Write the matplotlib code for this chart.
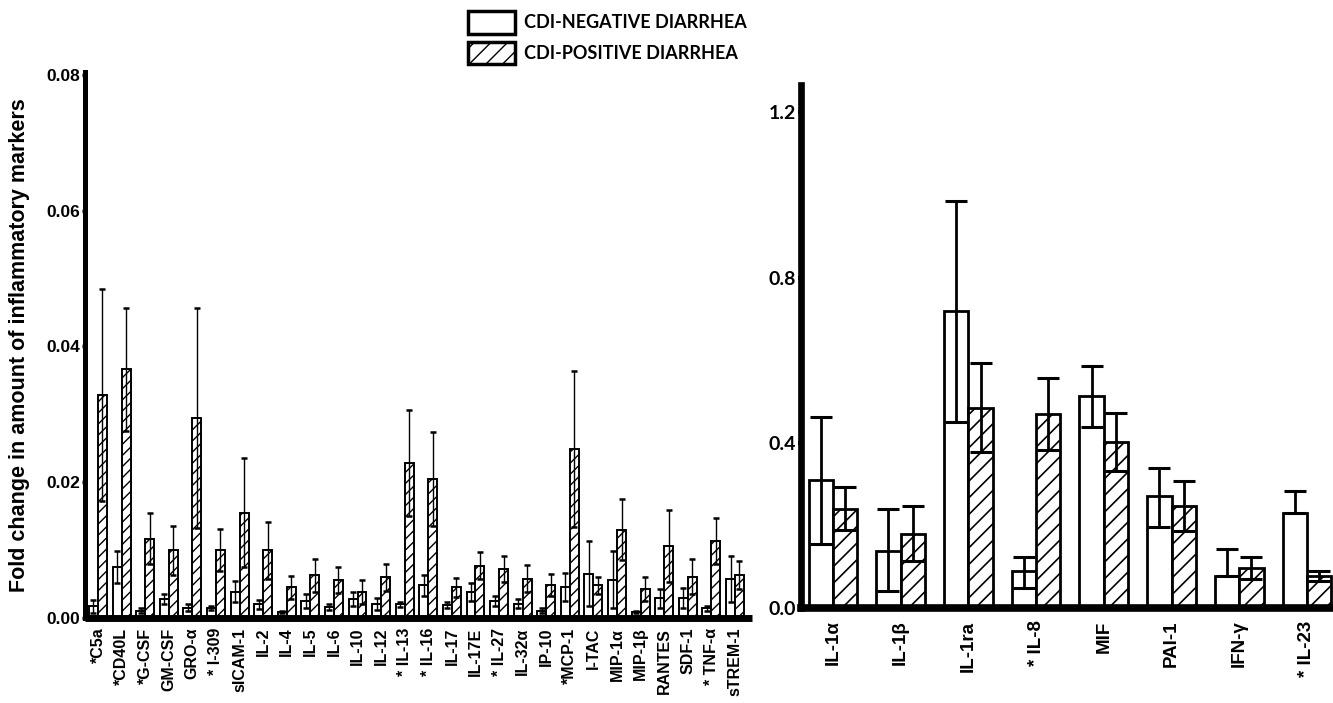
import matplotlib
matplotlib.use("Agg")
import matplotlib.pyplot as plt
import numpy as np
from matplotlib.patches import Patch

# ---------------- data ----------------
left_labels = ['*C5a', '*CD40L', '*G-CSF', 'GM-CSF', 'GRO-α', '* I-309', 'sICAM-1', 'IL-2',
               'IL-4', 'IL-5', 'IL-6', 'IL-10', 'IL-12', '* IL-13', '* IL-16', 'IL-17',
               'IL-17E', '* IL-27', 'IL-32α', 'IP-10', '*MCP-1', 'I-TAC', 'MIP-1α', 'MIP-1β',
               'RANTES', 'SDF-1', '* TNF-α', 'sTREM-1']
left_neg = [0.0017, 0.0075, 0.0011, 0.0028, 0.0015, 0.0015, 0.0039, 0.0020,
            0.0009, 0.0025, 0.0016, 0.0028, 0.0021, 0.0020, 0.0048, 0.0019,
            0.0038, 0.0025, 0.0021, 0.0011, 0.0046, 0.0065, 0.0056, 0.0009,
            0.0029, 0.0029, 0.0014, 0.0058]
left_neg_err = [0.0010, 0.0023, 0.0003, 0.0007, 0.0005, 0.0003, 0.0015, 0.0007,
                0.0002, 0.0011, 0.0004, 0.0010, 0.0009, 0.0004, 0.0016, 0.0004,
                0.0013, 0.0008, 0.0007, 0.0003, 0.0021, 0.0048, 0.0042, 0.0002,
                0.0014, 0.0015, 0.0003, 0.0034]
left_pos = [0.0329, 0.0366, 0.0117, 0.0100, 0.0295, 0.0100, 0.0155, 0.0100,
            0.0045, 0.0063, 0.0056, 0.0038, 0.0060, 0.0228, 0.0205, 0.0045,
            0.0077, 0.0072, 0.0058, 0.0049, 0.0249, 0.0048, 0.0130, 0.0043,
            0.0106, 0.0061, 0.0113, 0.0063]
left_pos_err = [0.0156, 0.0090, 0.0037, 0.0036, 0.0162, 0.0031, 0.0080, 0.0042,
                0.0017, 0.0024, 0.0019, 0.0018, 0.0020, 0.0078, 0.0069, 0.0014,
                0.0020, 0.0019, 0.0020, 0.0016, 0.0115, 0.0013, 0.0045, 0.0018,
                0.0053, 0.0026, 0.0034, 0.0021]

right_labels = ['IL-1α', 'IL-1β', 'IL-1ra', '* IL-8', 'MIF', 'PAI-1', 'IFN-γ', '* IL-23']
right_neg = [0.310, 0.139, 0.719, 0.089, 0.512, 0.271, 0.077, 0.231]
right_neg_err_hi = [0.153, 0.101, 0.265, 0.035, 0.074, 0.068, 0.066, 0.053]
right_neg_err_lo = [0.154, 0.099, 0.268, 0.041, 0.073, 0.075, 0.0, 0.0]
right_pos = [0.240, 0.180, 0.485, 0.470, 0.401, 0.247, 0.097, 0.077]
right_pos_err = [0.052, 0.067, 0.107, 0.087, 0.070, 0.060, 0.026, 0.012]

left_yticks = [0.00, 0.02, 0.04, 0.06, 0.08]
right_yticks = [0.0, 0.4, 0.8, 1.2]
legend_labels = ['CDI-NEGATIVE DIARRHEA', 'CDI-POSITIVE DIARRHEA']
ylabel_text = 'Fold change in amount of inflammatory markers'

# ---------------- figure ----------------
W, H = 1333, 703
fig = plt.figure(figsize=(W / 100, H / 100), dpi=100)
fig.patch.set_facecolor('white')

SANS = ['Liberation Sans', 'DejaVu Sans']
CAL = ['Lato', 'DejaVu Sans']

# ---- left panel ----
axL = fig.add_axes([85 / W, (H - 618) / H, 667 / W, 546 / H])
xL = np.arange(len(left_labels))
bwL = 0.38
plt.rcParams['hatch.linewidth'] = 1.0
axL.bar(xL - bwL / 2, left_neg, bwL, facecolor='white', edgecolor='black', linewidth=1.4, zorder=2)
axL.bar(xL + bwL / 2, left_pos, bwL, facecolor='white', edgecolor='black', linewidth=1.4,
        hatch='///', zorder=2)
axL.errorbar(xL - bwL / 2, left_neg, yerr=left_neg_err, fmt='none', ecolor='black',
             elinewidth=1.0, capsize=2.5, capthick=1.8, zorder=3)
axL.errorbar(xL + bwL / 2, left_pos, yerr=left_pos_err, fmt='none', ecolor='black',
             elinewidth=1.0, capsize=2.5, capthick=1.8, zorder=3)
axL.set_xlim(-0.55, len(left_labels) - 1 + 0.72)
axL.set_ylim(0, 0.0804)
axL.set_yticks(left_yticks)
axL.set_yticklabels([f'{v:.2f}' for v in left_yticks], fontfamily=SANS, fontweight='bold', fontsize=12.5)
axL.set_xticks(xL)
axL.set_xticklabels(left_labels, rotation=90, fontfamily=SANS, fontweight='bold', fontsize=11.5)
axL.tick_params(axis='x', length=0, pad=7)
axL.tick_params(axis='y', length=2.5, width=2.5, pad=1)
for s in ['top', 'right']:
    axL.spines[s].set_visible(False)
axL.spines['left'].set_linewidth(3.6)
axL.spines['bottom'].set_linewidth(5.0)
axL.spines['bottom'].set_capstyle('butt')
axL.set_ylabel(ylabel_text, fontfamily=SANS, fontweight='bold', fontsize=15.5)
axL.yaxis.set_label_coords(-0.082, 0.5)

# ---- right panel ----
axR = fig.add_axes([801 / W, (H - 608) / H, 532 / W, 523 / H])
xR = np.arange(len(right_labels))
bwR = 0.36
plt.rcParams['hatch.linewidth'] = 1.2
axR.bar(xR - bwR / 2, right_neg, bwR, facecolor='white', edgecolor='black', linewidth=2.0, zorder=2)
axR.bar(xR + bwR / 2, right_pos, bwR, facecolor='white', edgecolor='black', linewidth=2.0,
        hatch='//', zorder=2)
axR.errorbar(xR - bwR / 2, right_neg, yerr=[right_neg_err_lo, right_neg_err_hi], fmt='none',
             ecolor='black', elinewidth=2.0, capsize=8, capthick=2.2, zorder=3)
axR.errorbar(xR + bwR / 2, right_pos, yerr=right_pos_err, fmt='none',
             ecolor='black', elinewidth=2.0, capsize=8, capthick=2.2, zorder=3)
axR.set_xlim(-0.472, len(right_labels) - 1 + 0.384)
axR.set_ylim(0, 1.266)
axR.set_yticks(right_yticks)
axR.set_yticklabels([f'{v:.1f}' for v in right_yticks], fontfamily=CAL, fontweight='bold', fontsize=14)
axR.set_xticks(xR)
axR.set_xticklabels(right_labels, rotation=90, fontfamily=SANS, fontweight='bold', fontsize=13.5)
axR.tick_params(axis='x', length=0, pad=9)
axR.tick_params(axis='y', length=2.5, width=3, pad=1)
for s in ['top', 'right']:
    axR.spines[s].set_visible(False)
axR.spines['left'].set_linewidth(4.8)
axR.spines['bottom'].set_linewidth(5.5)

# ---- legend ----
plt.rcParams['hatch.linewidth'] = 1.0
handles = [Patch(facecolor='white', edgecolor='black', linewidth=2.5),
           Patch(facecolor='white', edgecolor='black', linewidth=2.5, hatch='//')]
fig.legend(handles, legend_labels, loc='upper left', bbox_to_anchor=(468 / W, 1 - 11 / H),
           frameon=False, prop={'family': CAL, 'weight': 'bold', 'size': 13},
           handlelength=2.6, handleheight=1.55, handletextpad=0.5, labelspacing=0.45,
           borderpad=0, borderaxespad=0)

fig.savefig('out.png', dpi=100, facecolor='white')
